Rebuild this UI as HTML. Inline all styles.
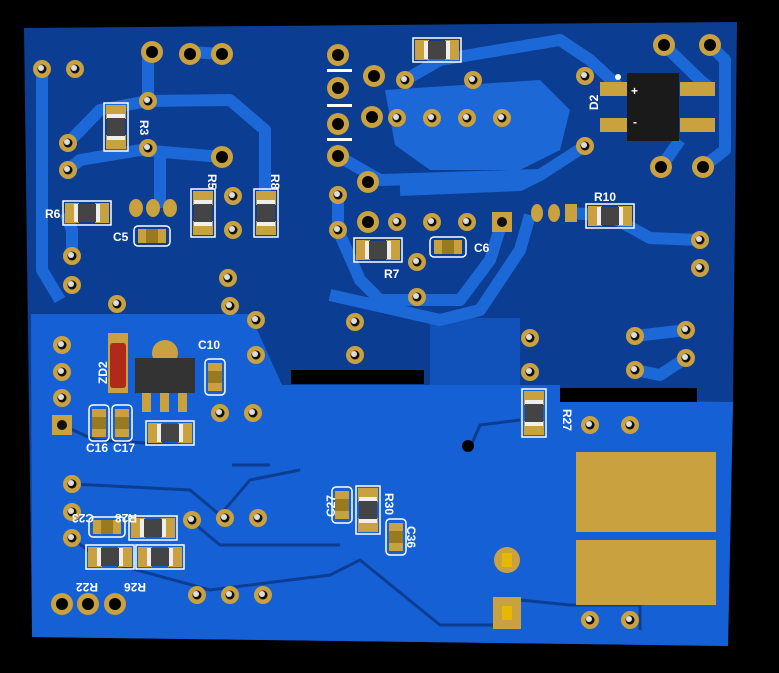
<!DOCTYPE html>
<html><head><meta charset="utf-8"><style>
html,body{margin:0;padding:0;background:#000;}
svg{display:block;}
text{font-family:"Liberation Sans",sans-serif;font-weight:bold;fill:#fff;font-size:12px;}
</style></head><body>
<svg width="779" height="673" viewBox="0 0 779 673" xmlns="http://www.w3.org/2000/svg">
<defs>
<g id="P"><circle r="11" fill="#c9a13f"/><circle r="6" fill="#050505"/></g>
<g id="S"><circle r="9" fill="#c9a13f"/><circle r="4.5" fill="#111"/><circle r="3" cx="-1" cy="-1" fill="#ddd"/></g>
<g id="Q"><rect x="-10" y="-10" width="20" height="20" fill="#c9a13f"/><circle r="5" fill="#111"/></g>
<g id="RV"><rect x="-12" y="-24" width="24" height="48" fill="none" stroke="#fff" stroke-width="1.5"/><rect x="-10" y="-22" width="20" height="14" fill="#c9a13f"/><rect x="-10" y="8" width="20" height="14" fill="#c9a13f"/><rect x="-9" y="-12" width="18" height="24" fill="#444"/><rect x="-9" y="-13" width="18" height="4" fill="#eee"/><rect x="-9" y="9" width="18" height="4" fill="#eee"/></g>
<g id="RH"><rect x="-24" y="-12" width="48" height="24" fill="none" stroke="#fff" stroke-width="1.5"/><rect x="-22" y="-10" width="14" height="20" fill="#c9a13f"/><rect x="8" y="-10" width="14" height="20" fill="#c9a13f"/><rect x="-12" y="-9" width="24" height="18" fill="#444"/><rect x="-13" y="-9" width="4" height="18" fill="#eee"/><rect x="9" y="-9" width="4" height="18" fill="#eee"/></g>
<g id="CH"><rect x="-18" y="-10" width="36" height="20" rx="4" fill="none" stroke="#fff" stroke-width="1.5"/><rect x="-14" y="-7" width="28" height="14" fill="#c9a13f"/><rect x="-6" y="-7" width="12" height="14" fill="#9a7a20"/></g>
<g id="CV"><rect x="-10" y="-18" width="20" height="36" rx="4" fill="none" stroke="#fff" stroke-width="1.5"/><rect x="-7" y="-14" width="14" height="28" fill="#c9a13f"/><rect x="-7" y="-6" width="14" height="12" fill="#9a7a20"/></g>
</defs>
<rect width="779" height="673" fill="#000"/>
<!-- board -->
<polygon points="24,28 737,22 733,400 728,646 32,637" fill="#0b3d92"/>
<!-- lower pour -->
<polygon points="31,314 250,314 282,385 560,385 560,400 733,402 728,646 32,637" fill="#1660d6"/>
<polygon points="430,318 520,318 520,385 430,385" fill="#1660d6" opacity="0.6"/>
<!-- traces top -->
<g fill="none" stroke="#1c68d6" stroke-width="12" stroke-linejoin="round">
<path d="M42,69 L42,270 L60,300"/>
<path d="M68,143 L100,110 L148,101 L230,100 L265,130 L265,200"/>
<path d="M148,52 L148,101"/>
<path d="M68,170 L80,160 L140,150 L222,157"/>
<path d="M160,150 L160,208"/>
<path d="M72,256 L72,230 L65,213"/>
<path d="M190,52 L222,54"/>
<path d="M405,80 L440,60 L560,40 L590,60 L620,88"/>
<path d="M585,146 L540,175 L380,180 L338,156"/>
<path d="M338,190 L338,230 L360,280 L380,300 L460,300 L490,260 L502,222"/>
<path d="M400,190 L520,185 L540,175"/>
<path d="M330,295 L440,320 L480,310 L520,250 L530,215"/>
<path d="M571,213 L610,216 L650,238 L700,240"/>
<path d="M664,45 L700,80 L710,88"/>
<path d="M710,45 L725,60 L725,150 L703,167"/>
<path d="M661,167 L680,140"/>
<path d="M635,336 L686,330"/>
<path d="M686,358 L660,375 L635,370"/>
</g>
<path d="M385,90 L540,80 L570,110 L560,150 L520,170 L430,170 L395,145 Z" fill="#1c68d6"/>
<!-- lower thin traces -->
<g fill="none" stroke="#0b3d92" stroke-width="3">
<path d="M72,484 L190,490 L220,515 L250,480 L300,470"/>
<path d="M72,538 L100,560 L210,590 L330,575 L360,560 L440,625 L495,625 L510,612"/>
<path d="M190,520 L220,545 L340,545"/>
<path d="M470,448 L480,425 L520,420"/>
<path d="M232,465 L270,465"/>
<path d="M520,600 L570,605 L640,605 L640,630"/>
<path d="M62,425 L95,440 L180,445"/>
</g>
<!-- white bars -->
<g fill="#fff"><rect x="327" y="69" width="25" height="3"/><rect x="327" y="104" width="25" height="3"/><rect x="327" y="138" width="25" height="3"/></g>
<!-- black bars -->
<rect x="291" y="370" width="133" height="14" fill="#000"/>
<rect x="560" y="388" width="137" height="14" fill="#000"/>
<!-- big pads -->
<g fill="#c9a13f"><rect x="576" y="452" width="140" height="80"/><rect x="576" y="540" width="140" height="65"/></g>
<!-- pads -->
<g>
<use href="#S" x="42" y="69"/><use href="#S" x="75" y="69"/>
<use href="#P" x="152" y="52"/><use href="#P" x="190" y="54"/><use href="#P" x="222" y="54"/>
<use href="#S" x="148" y="101"/><use href="#S" x="148" y="148"/><use href="#P" x="222" y="157"/>
<use href="#S" x="68" y="143"/><use href="#S" x="68" y="170"/>
<use href="#S" x="72" y="256"/><use href="#S" x="72" y="285"/>
<use href="#S" x="117" y="304"/><use href="#S" x="228" y="278"/><use href="#S" x="230" y="306"/><use href="#S" x="256" y="320"/><use href="#S" x="256" y="355"/>
<use href="#S" x="62" y="345"/><use href="#S" x="62" y="372"/><use href="#S" x="62" y="398"/><use href="#Q" x="62" y="425"/>
<use href="#S" x="233" y="196"/><use href="#S" x="233" y="230"/>
<use href="#P" x="338" y="55"/><use href="#P" x="338" y="88"/><use href="#P" x="338" y="124"/><use href="#P" x="338" y="156"/>
<use href="#P" x="374" y="76"/><use href="#P" x="372" y="117"/><use href="#P" x="368" y="182"/>
<use href="#S" x="338" y="195"/><use href="#S" x="338" y="230"/>
<use href="#S" x="397" y="118"/><use href="#S" x="432" y="118"/><use href="#S" x="467" y="118"/><use href="#S" x="502" y="118"/>
<use href="#P" x="368" y="222"/><use href="#S" x="397" y="222"/><use href="#S" x="432" y="222"/><use href="#S" x="467" y="222"/><use href="#Q" x="502" y="222"/>
<use href="#S" x="417" y="262"/><use href="#S" x="417" y="297"/><use href="#S" x="355" y="322"/><use href="#S" x="355" y="355"/>
<use href="#S" x="405" y="80"/><use href="#S" x="473" y="80"/>
<use href="#S" x="585" y="76"/><use href="#S" x="585" y="146"/>
<use href="#P" x="664" y="45"/><use href="#P" x="710" y="45"/><use href="#P" x="661" y="167"/><use href="#P" x="703" y="167"/>
<use href="#S" x="700" y="240"/><use href="#S" x="700" y="268"/>
<use href="#S" x="530" y="338"/><use href="#S" x="530" y="372"/><use href="#S" x="635" y="336"/><use href="#S" x="635" y="370"/><use href="#S" x="686" y="330"/><use href="#S" x="686" y="358"/>
<use href="#S" x="590" y="425"/><use href="#S" x="630" y="425"/><use href="#S" x="590" y="620"/><use href="#S" x="630" y="620"/>
<use href="#S" x="220" y="413"/><use href="#S" x="253" y="413"/>
<use href="#S" x="72" y="484"/><use href="#S" x="72" y="512"/><use href="#S" x="72" y="538"/>
<use href="#S" x="192" y="520"/><use href="#S" x="225" y="518"/><use href="#S" x="258" y="518"/>
<use href="#S" x="197" y="595"/><use href="#S" x="230" y="595"/><use href="#S" x="263" y="595"/>
<use href="#P" x="62" y="604"/><use href="#P" x="88" y="604"/><use href="#P" x="115" y="604"/>
</g>
<circle cx="468" cy="446" r="6" fill="#000"/>
<!-- small pads -->
<g fill="#c9a13f"><ellipse cx="537" cy="213" rx="6" ry="9"/><ellipse cx="554" cy="213" rx="6" ry="9"/><rect x="565" y="204" width="12" height="18"/>
<ellipse cx="136" cy="208" rx="7" ry="9"/><ellipse cx="153" cy="208" rx="7" ry="9"/><ellipse cx="170" cy="208" rx="7" ry="9"/></g>
<!-- parts -->
<use href="#RV" x="116" y="127"/><use href="#RH" x="87" y="213"/><use href="#CH" x="152" y="236"/>
<use href="#RV" x="203" y="213"/><use href="#RV" x="266" y="213"/>
<use href="#RH" x="378" y="250"/><use href="#CH" x="448" y="247"/>
<use href="#RH" x="437" y="50"/><use href="#RH" x="610" y="216"/>
<use href="#RV" x="534" y="413"/>
<use href="#CV" x="215" y="377"/><use href="#CV" x="99" y="423"/><use href="#CV" x="122" y="423"/>
<use href="#RH" x="170" y="433"/>
<use href="#CH" x="107" y="527"/><use href="#RH" x="153" y="528"/><use href="#RH" x="110" y="557"/><use href="#RH" x="160" y="557"/>
<use href="#CV" x="342" y="505"/><use href="#RV" x="368" y="510"/><use href="#CV" x="396" y="537"/>
<!-- D2 bridge -->
<g fill="#c9a13f"><rect x="600" y="82" width="35" height="14"/><rect x="680" y="82" width="35" height="14"/><rect x="600" y="118" width="35" height="14"/><rect x="680" y="118" width="35" height="14"/></g>
<rect x="627" y="73" width="52" height="68" fill="#1a1a1a"/>
<circle cx="618" cy="77" r="3" fill="#fff"/>
<text x="631" y="95" font-size="14">+</text><text x="633" y="126" font-size="10" font-weight="normal">-</text>
<!-- ZD2, regulator -->
<rect x="108" y="333" width="20" height="60" fill="#c9a13f"/><rect x="110" y="343" width="16" height="45" rx="3" fill="#b02a1a"/>
<circle cx="165" cy="353" r="13" fill="#c9a13f"/>
<g fill="#c9a13f"><rect x="142" y="390" width="9" height="22"/><rect x="160" y="390" width="9" height="22"/><rect x="178" y="390" width="9" height="22"/></g>
<rect x="135" y="358" width="60" height="35" fill="#333"/>
<!-- connector pads -->
<circle cx="507" cy="560" r="13" fill="#c9a13f"/><rect x="502" y="553" width="10" height="14" fill="#e6b800"/>
<rect x="493" y="597" width="28" height="32" fill="#c9a13f"/><rect x="502" y="606" width="10" height="14" fill="#e6b800"/>
<!-- labels -->
<text x="135" y="125" transform="rotate(90 140 125)">R3</text>
<text x="45" y="218">R6</text><text x="113" y="241">C5</text>
<text x="196" y="170" transform="rotate(90 200 178)">R5</text>
<text x="259" y="170" transform="rotate(90 263 178)">R8</text>
<text x="384" y="278">R7</text><text x="474" y="252">C6</text>
<text x="594" y="201">R10</text>
<text x="590" y="118" transform="rotate(-90 590 110)">D2</text>
<text x="198" y="349">C10</text>
<text x="104" y="395" transform="rotate(-90 100 388)">ZD2</text>
<text x="86" y="452">C16</text><text x="113" y="452">C17</text>
<text x="551" y="405" transform="rotate(90 555 413)">R27</text>
<text x="120" y="506" transform="rotate(180 107 510)">C23</text>
<text x="163" y="506" transform="rotate(180 150 510)">R28</text>
<text x="122" y="575" transform="rotate(180 110 579)">R22</text>
<text x="170" y="575" transform="rotate(180 158 579)">R26</text>
<text x="318" y="520" transform="rotate(-90 325 510)">C27</text>
<text x="378" y="510" transform="rotate(90 390 505)">R30</text>
<text x="403" y="540" transform="rotate(90 412 535)">C36</text>
</svg>
</body></html>
